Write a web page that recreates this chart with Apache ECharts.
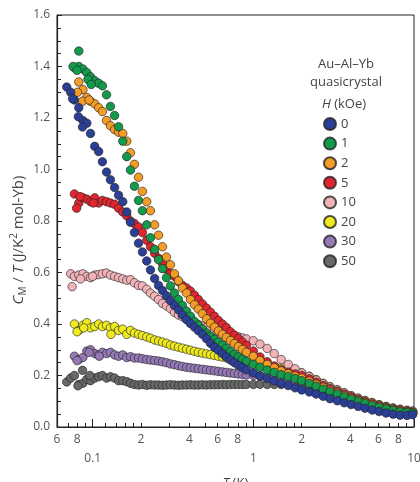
<!DOCTYPE html>
<html>
<head>
<meta charset="utf-8">
<script src="https://cdn.jsdelivr.net/npm/echarts@6/dist/echarts.min.js"></script>
<style>
html, body { margin: 0; padding: 0; background: #fff; }
#chart { width: 420px; height: 482px; }
</style>
</head>
<body>
<div id="chart"></div>
<script>
var fields = ['0', '1', '2', '5', '10', '20', '30', '50'];
var colors = ['#2c3f96', '#139a4b', '#f39c26', '#e1262f', '#f1b3b8', '#eeea1f', '#9479b5', '#686868'];

// temperature grid (K)
var temps = [0.069, 0.073, 0.077, 0.082, 0.087, 0.092, 0.097, 0.103, 0.109, 0.115,
    0.122, 0.129, 0.137, 0.145, 0.154, 0.163, 0.172, 0.182, 0.193, 0.204,
    0.217, 0.229, 0.243, 0.257, 0.272, 0.288, 0.305, 0.323, 0.342, 0.362,
    0.384, 0.406, 0.43, 0.455, 0.482, 0.511, 0.541, 0.573, 0.606, 0.642,
    0.68, 0.72, 0.762, 0.807, 0.855, 0.905, 1.0, 1.1, 1.22, 1.35,
    1.49, 1.65, 1.82, 2.0, 2.23, 2.46, 2.72, 3.0, 3.33, 3.68,
    4.06, 4.49, 4.96, 5.49, 6.06, 6.7, 7.41, 8.19, 9.05, 9.8];

// C_M/T at each temperature, one list per field
var c0 = [1.32, 1.30, 1.27, 1.24, 1.19, 1.18, 1.14, 1.09, 1.07, 1.03,
    0.99, 0.96, 0.93, 0.90, 0.875, 0.835, 0.795, 0.755, 0.714, 0.68,
    0.645, 0.61, 0.577, 0.55, 0.53, 0.51, 0.49, 0.472, 0.455, 0.435,
    0.417, 0.402, 0.388, 0.374, 0.36, 0.343, 0.325, 0.31, 0.298, 0.285,
    0.272, 0.26, 0.25, 0.24, 0.231, 0.222, 0.21, 0.198, 0.188, 0.179,
    0.17, 0.161, 0.152, 0.144, 0.136, 0.128, 0.119, 0.11, 0.102, 0.094,
    0.087, 0.08, 0.073, 0.066, 0.06, 0.054, 0.05, 0.046, 0.045, 0.048];
var c1 = [null, null, 1.395, 1.40, 1.39, 1.376, 1.36, 1.345, 1.335, 1.325,
    1.29, 1.245, 1.21, 1.166, 1.11, 1.05, 0.998, 0.935, 0.88, 0.84,
    0.785, 0.735, 0.69, 0.65, 0.615, 0.58, 0.548, 0.52, 0.495, 0.472,
    0.45, 0.43, 0.41, 0.395, 0.38, 0.365, 0.352, 0.34, 0.33, 0.318,
    0.305, 0.293, 0.282, 0.272, 0.263, 0.255, 0.243, 0.232, 0.221, 0.212,
    0.203, 0.196, 0.188, 0.18, 0.169, 0.158, 0.147, 0.137, 0.127, 0.117,
    0.108, 0.099, 0.091, 0.083, 0.076, 0.07, 0.064, 0.059, 0.056, 0.054];
var c2 = [null, null, null, 1.34, 1.31, 1.28, 1.265, 1.255, 1.24, 1.225,
    1.19, 1.17, 1.155, 1.145, 1.14, 1.11, 1.065, 1.02, 0.97, 0.915,
    0.875, 0.84, 0.785, 0.745, 0.70, 0.66, 0.63, 0.595, 0.568, 0.54,
    0.52, 0.495, 0.475, 0.458, 0.44, 0.42, 0.403, 0.388, 0.373, 0.36,
    0.348, 0.336, 0.324, 0.312, 0.301, 0.29, 0.275, 0.258, 0.243, 0.23,
    0.218, 0.207, 0.198, 0.19, 0.178, 0.166, 0.154, 0.143, 0.132, 0.122,
    0.112, 0.103, 0.095, 0.087, 0.08, 0.073, 0.067, 0.062, 0.058, 0.056];
var c5 = [null, null, 0.905, 0.87, 0.89, 0.885, 0.875, 0.89, 0.87, 0.88,
    0.875, 0.87, 0.865, 0.85, 0.835, 0.82, 0.80, 0.79, 0.777, 0.755,
    0.725, 0.70, 0.675, 0.655, 0.635, 0.615, 0.595, 0.585, 0.565, 0.55,
    0.54, 0.528, 0.512, 0.495, 0.478, 0.462, 0.446, 0.43, 0.414, 0.4,
    0.386, 0.37, 0.357, 0.344, 0.33, 0.317, 0.295, 0.272, 0.253, 0.237,
    0.222, 0.213, 0.206, 0.2, 0.187, 0.174, 0.161, 0.149, 0.138, 0.127,
    0.117, 0.107, 0.098, 0.09, 0.083, 0.076, 0.07, 0.065, 0.061, 0.058];
var c10 = [null, 0.595, 0.585, 0.59, 0.595, 0.585, 0.58, 0.59, 0.592, 0.595,
    0.598, 0.59, 0.585, 0.58, 0.575, 0.57, 0.572, 0.56, 0.55, 0.548,
    0.535, 0.52, 0.508, 0.495, 0.48, 0.47, 0.46, 0.445, 0.435, 0.428,
    0.42, 0.412, 0.405, 0.398, 0.392, 0.386, 0.38, 0.375, 0.37, 0.366,
    0.362, 0.358, 0.354, 0.35, 0.346, 0.342, 0.335, 0.322, 0.305, 0.285,
    0.262, 0.243, 0.226, 0.21, 0.196, 0.182, 0.168, 0.155, 0.143, 0.132,
    0.121, 0.111, 0.102, 0.094, 0.086, 0.079, 0.073, 0.068, 0.064, 0.061];
var c20 = [null, null, 0.40, 0.375, 0.395, 0.405, 0.385, 0.39, 0.40, 0.39,
    0.395, 0.385, 0.39, 0.375, 0.38, 0.36, 0.375, 0.365, 0.36, 0.355,
    0.35, 0.345, 0.338, 0.334, 0.33, 0.325, 0.318, 0.314, 0.31, 0.306,
    0.302, 0.298, 0.294, 0.29, 0.287, 0.284, 0.281, 0.278, 0.275, 0.272,
    0.268, 0.265, 0.262, 0.259, 0.256, 0.253, 0.248, 0.243, 0.238, 0.233,
    0.228, 0.223, 0.218, 0.21, 0.197, 0.184, 0.17, 0.157, 0.145, 0.133,
    0.122, 0.112, 0.103, 0.095, 0.087, 0.08, 0.074, 0.069, 0.065, 0.062];
var c30 = [null, null, 0.275, 0.262, 0.27, 0.295, 0.30, 0.285, 0.28, 0.29,
    0.285, 0.29, 0.28, 0.275, 0.28, 0.27, 0.273, 0.268, 0.268, 0.265,
    0.262, 0.26, 0.258, 0.256, 0.253, 0.25, 0.245, 0.242, 0.238, 0.235,
    0.232, 0.23, 0.228, 0.226, 0.224, 0.222, 0.22, 0.218, 0.216, 0.214,
    0.212, 0.21, 0.208, 0.206, 0.204, 0.202, 0.2, 0.198, 0.195, 0.192,
    0.19, 0.186, 0.181, 0.175, 0.164, 0.153, 0.143, 0.133, 0.123, 0.114,
    0.105, 0.097, 0.089, 0.081, 0.074, 0.068, 0.063, 0.058, 0.055, 0.053];
var c50 = [0.175, 0.19, 0.20, 0.165, 0.17, 0.185, 0.18, 0.19, 0.195, 0.2,
    0.19, 0.195, 0.19, 0.18, 0.18, 0.176, 0.17, 0.165, 0.163, 0.165,
    0.162, 0.164, 0.163, 0.163, 0.162, 0.163, 0.164, 0.163, 0.162, 0.163,
    0.163, 0.164, 0.163, 0.163, 0.164, 0.163, 0.164, 0.164, 0.164, 0.165,
    0.164, 0.165, 0.165, 0.165, 0.165, 0.165, 0.165, 0.166, 0.165, 0.165,
    0.165, 0.164, 0.163, 0.162, 0.153, 0.144, 0.135, 0.126, 0.117, 0.109,
    0.101, 0.093, 0.085, 0.078, 0.071, 0.065, 0.06, 0.056, 0.053, 0.052];

// scattered extra points at low T  [T, C_M/T]
var x0 = [[0.075, 1.275], [0.0815, 1.205], [0.0865, 1.165]];
var x1 = [[0.082, 1.46], [0.0755, 1.40], [0.080, 1.385], [0.0935, 1.35], [0.098, 1.33]];
var x2 = [[0.0805, 1.30], [0.0865, 1.265], [0.095, 1.27]];
var x5 = [[0.0795, 0.85], [0.0835, 0.895], [0.101, 0.87]];
var x10 = [[0.0745, 0.545], [0.084, 0.575], [0.1, 0.585]];
var x20 = [[0.080, 0.37], [0.088, 0.385], [0.13, 0.36]];
var x30 = [[0.080, 0.258], [0.095, 0.29], [0.11, 0.275]];
var x50 = [[0.0865, 0.22], [0.081, 0.16], [0.096, 0.2]];

var curves = [c0, c1, c2, c5, c10, c20, c30, c50];
var extras = [x0, x1, x2, x5, x10, x20, x30, x50];

// axis ticks
var tickVals = [0.06, 0.07, 0.08, 0.09, 0.12, 0.14, 0.16, 0.18, 0.2, 0.3, 0.4, 0.5, 0.6, 0.7, 0.8, 0.9,
    1.2, 1.4, 1.6, 1.8, 2, 3, 4, 5, 6, 7, 8, 9];
var labelVals = [0.06, 0.08, 0.2, 0.4, 0.6, 0.8, 2, 4, 6, 8];
var labelText = ['6', '8', '2', '4', '6', '8', '2', '4', '6', '8'];
var decadeVals = [0.1, 1, 10];
var decadeText = ['0.1', '1', '10'];

var FONT = '"Open Sans", "Noto Sans", sans-serif';

var chart = echarts.init(document.getElementById('chart'));

// drawn from 50 kOe up so that 0 kOe sits on top
var series = [];
for (var k = fields.length - 1; k >= 0; k--) {
    var pts = [];
    for (var i = 0; i < temps.length; i++) {
        if (curves[k][i] != null) pts.push([temps[i], curves[k][i]]);
    }
    pts = pts.concat(extras[k]);
    series.push({
        name: fields[k],
        type: 'scatter',
        symbol: 'circle',
        symbolSize: 8.5,
        data: pts,
        itemStyle: {
            color: colors[k],
            borderColor: 'rgba(35,35,35,0.8)',
            borderWidth: 0.8,
            opacity: 1
        },
        emphasis: { disabled: true }
    });
}

function lookup(vals, texts, v) {
    for (var i = 0; i < vals.length; i++) {
        if (Math.abs(vals[i] - v) < 1e-6 * vals[i]) return texts[i];
    }
    return '';
}

var txt = { font: '13px ' + FONT, fill: '#444', align: 'center', verticalAlign: 'middle', textAlign: 'center', textVerticalAlign: 'middle' };

var option = {
    animation: false,
    backgroundColor: '#fff',
    grid: {
        left: 57, right: 6, top: 15, bottom: 55,
        outerBoundsMode: 'none',
        containLabel: false,
        show: true, borderColor: '#222', borderWidth: 1
    },
    legend: {
        data: fields,
        orient: 'vertical',
        left: 318,
        top: 112,
        itemWidth: 12,
        itemHeight: 12,
        itemGap: 5.6,
        icon: 'circle',
        textStyle: { fontFamily: FONT, fontSize: 13, color: '#444' },
        selectedMode: false
    },
    graphic: [
        { type: 'text', x: 346, y: 64, style: Object.assign({ text: 'Au–Al–Yb' }, txt) },
        { type: 'text', x: 346, y: 82, style: Object.assign({ text: 'quasicrystal' }, txt) },
        { type: 'text', x: 344, y: 104, style: Object.assign({ text: '{i|H} (kOe)',
            rich: { i: { fontStyle: 'italic', fontFamily: FONT, fontSize: 13, fill: '#444' } } }, txt) },
        { type: 'text', x: 19, y: 240, rotation: Math.PI / 2,
            style: Object.assign({ text: '{i|C}{s|M}{n| / }{i|T}{n| (J/K}{p|2}{n| mol-Yb)}',
                rich: {
                    i: { fontStyle: 'italic', fontFamily: FONT, fontSize: 15, fill: '#444', lineHeight: 19 },
                    n: { fontFamily: FONT, fontSize: 15, fill: '#444', lineHeight: 19 },
                    s: { fontFamily: FONT, fontSize: 10, fill: '#444', lineHeight: 19, verticalAlign: 'bottom' },
                    p: { fontFamily: FONT, fontSize: 10, fill: '#444', lineHeight: 19, verticalAlign: 'top' }
                } }, txt) }
    ],
    xAxis: [{
        type: 'log',
        min: 0.06,
        max: 10,
        position: 'bottom',
        axisLine: { lineStyle: { color: '#222', width: 1.2 } },
        axisTick: { customValues: tickVals, inside: true, length: 4, lineStyle: { color: '#222' } },
        axisLabel: {
            customValues: labelVals,
            margin: 7,
            color: '#555',
            fontFamily: FONT,
            fontSize: 12,
            formatter: function (v) { return lookup(labelVals, labelText, v); }
        },
        splitLine: { show: false },
        minorTick: { show: false },
        minorSplitLine: { show: false }
    }, {
        type: 'log',
        min: 0.06,
        max: 10,
        position: 'bottom',
        axisLine: { show: false },
        axisTick: { customValues: decadeVals, inside: true, length: 8, lineStyle: { color: '#222' } },
        axisLabel: {
            customValues: decadeVals,
            margin: 26,
            color: '#555',
            fontFamily: FONT,
            fontSize: 12,
            formatter: function (v) { return lookup(decadeVals, decadeText, v); }
        },
        splitLine: { show: false },
        name: '{i|T} (K)',
        nameLocation: 'middle',
        nameGap: 50,
        nameTextStyle: {
            color: '#444', fontFamily: FONT, fontSize: 13,
            rich: { i: { fontStyle: 'italic', color: '#444', fontFamily: FONT, fontSize: 13 } }
        }
    }],
    yAxis: {
        type: 'value',
        min: 0,
        max: 1.6,
        interval: 0.2,
        axisLine: { show: true, lineStyle: { color: '#222', width: 1.2 } },
        axisTick: { show: true, inside: true, length: 5, lineStyle: { color: '#222' } },
        minorTick: { show: true, splitNumber: 4, length: 4, lineStyle: { color: '#222' } },
        axisLabel: {
            margin: 7,
            color: '#555',
            fontFamily: FONT,
            fontSize: 12,
            formatter: function (v) { return v.toFixed(1); }
        },
        splitLine: { show: false }
    },
    series: series
};

chart.setOption(option);
</script>
</body>
</html>
